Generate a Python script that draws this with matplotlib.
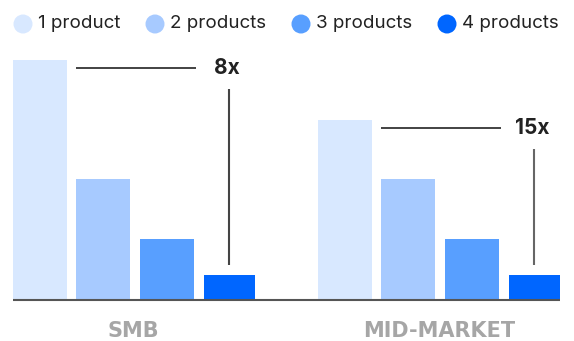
import matplotlib

matplotlib.use("Agg")

import matplotlib.pyplot as plt
from matplotlib.patches import Circle

SEGMENTS = ["SMB", "MID-MARKET"]
SERIES = ["1 product", "2 products", "3 products", "4 products"]
# relative bar heights per segment, one value per product count
SMB_VALUES = [240, 121, 61, 25]
MID_VALUES = [180, 121, 61, 25]
MULTIPLIERS = ["8x", "15x"]

COLORS = ["#D8E8FF", "#A7CAFF", "#589FFF", "#0066FF"]
TEXT_DARK = "#222222"

plt.rcParams["font.family"] = ["Inter", "DejaVu Sans"]

fig = plt.figure(figsize=(5.74, 3.41), dpi=100)
ax = fig.add_axes([0, 0, 1, 1])
ax.set_xlim(0, 574)
ax.set_ylim(-41, 300)
ax.axis("off")

group_starts = [13, 318]
bar_offsets = [0, 63, 126.5, 190.5]
bar_widths = [54, 54, 54, 51]

for g, values in enumerate([SMB_VALUES, MID_VALUES]):
    lefts = [group_starts[g] + off for off in bar_offsets]
    for i, (left, w, value) in enumerate(zip(lefts, bar_widths, values)):
        ax.bar(left, value, width=w, align="edge", color=COLORS[i], linewidth=0)

    # multiplier callout: line from tallest bar, label, drop line to smallest bar
    y_line = values[0] - 8
    ax.plot([lefts[0] + bar_widths[0] + 9, lefts[2] + bar_widths[2] + 2], [y_line, y_line],
            color=TEXT_DARK, linewidth=1.2, solid_capstyle="butt")
    x4 = lefts[3] + bar_widths[3] / 2
    ax.text(x4 - 15 if g == 0 else x4 - 18.5, y_line, MULTIPLIERS[g], ha="left", va="center",
            fontsize=15, fontweight="bold", color=TEXT_DARK)
    ax.plot([x4, x4], [y_line - 21, values[3] + 10], color="#444444" if g == 0 else "#666666",
            linewidth=1.5, solid_capstyle="butt")

    center = lefts[0] + (lefts[3] + bar_widths[3] - lefts[0]) / 2
    ax.text(center, -31, SEGMENTS[g], ha="center", va="center", fontsize=15,
            fontweight="bold", color="#A6A6A6", fontfamily="DejaVu Sans")

ax.plot([13, 560], [0, 0], color="#555555", linewidth=1.5, solid_capstyle="butt")

# legend row
legend_x = [23, 155, 301, 447]
for x, label, color in zip(legend_x, SERIES, COLORS):
    ax.add_patch(Circle((x, 276), 9.5, color=color, linewidth=0))
    ax.text(x + 15, 276, label, ha="left", va="center", fontsize=13.5, color=TEXT_DARK)

fig.savefig("out.png", dpi=100)
